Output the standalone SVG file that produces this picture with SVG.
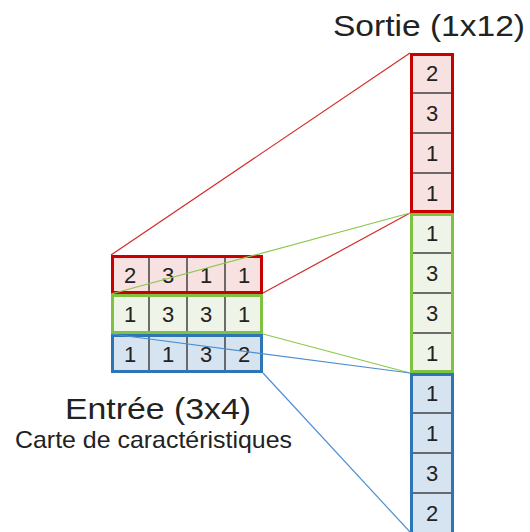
<svg xmlns="http://www.w3.org/2000/svg" width="530" height="532" viewBox="0 0 530 532">
<style>
.t{font-family:"Liberation Sans",Arial,sans-serif;fill:#222;}
.d{font-size:22px;text-anchor:middle;}
.div{stroke:#404040;stroke-width:1.5;}
.rf{fill:#f8e1e1;}.gf{fill:#eff4e8;}.bf{fill:#d6e4f2;}
.rs{fill:none;stroke:#c80000;stroke-width:3;}
.gs{fill:none;stroke:#7fc241;stroke-width:3;}
.bs{fill:none;stroke:#2e75b6;stroke-width:3;}
.cr{stroke:#d42a2a;stroke-width:1.2;fill:none;}
.cg{stroke:#8cc84e;stroke-width:1.2;fill:none;}
.cb{stroke:#4f8fd0;stroke-width:1.2;fill:none;}
</style>
<rect width="530" height="532" fill="#fff"/>
<g id="input-row-1">
<rect class="rf" x="111" y="255" width="152" height="39"/>
<line class="div" x1="149" y1="255" x2="149" y2="294"/><line class="div" x1="187" y1="255" x2="187" y2="294"/><line class="div" x1="225" y1="255" x2="225" y2="294"/>
<rect class="rs" x="112.5" y="256.5" width="149" height="36"/>
<text class="t d" x="130" y="283">2</text><text class="t d" x="168" y="283">3</text><text class="t d" x="206" y="283">1</text><text class="t d" x="244" y="283">1</text>
</g>
<g id="input-row-2">
<rect class="gf" x="111" y="294" width="152" height="40"/>
<line class="div" x1="149" y1="294" x2="149" y2="334"/><line class="div" x1="187" y1="294" x2="187" y2="334"/><line class="div" x1="225" y1="294" x2="225" y2="334"/>
<rect class="gs" x="112.5" y="295.5" width="149" height="37"/>
<text class="t d" x="130" y="322">1</text><text class="t d" x="168" y="322">3</text><text class="t d" x="206" y="322">3</text><text class="t d" x="244" y="322">1</text>
</g>
<g id="input-row-3">
<rect class="bf" x="111" y="334" width="152" height="39"/>
<line class="div" x1="149" y1="334" x2="149" y2="373"/><line class="div" x1="187" y1="334" x2="187" y2="373"/><line class="div" x1="225" y1="334" x2="225" y2="373"/>
<rect class="bs" x="112.5" y="335.5" width="149" height="36"/>
<text class="t d" x="130" y="362">1</text><text class="t d" x="168" y="362">1</text><text class="t d" x="206" y="362">3</text><text class="t d" x="244" y="362">2</text>
</g>
<g id="output-red">
<rect class="rf" x="410" y="53" width="44" height="160"/>
<line class="div" x1="410" y1="93" x2="454" y2="93"/><line class="div" x1="410" y1="133" x2="454" y2="133"/><line class="div" x1="410" y1="173" x2="454" y2="173"/>
<rect class="rs" x="411.5" y="54.5" width="41" height="157"/>
<text class="t d" x="432" y="81">2</text><text class="t d" x="432" y="121">3</text><text class="t d" x="432" y="161">1</text><text class="t d" x="432" y="201">1</text>
</g>
<g id="output-green">
<rect class="gf" x="410" y="213" width="44" height="160"/>
<line class="div" x1="410" y1="253" x2="454" y2="253"/><line class="div" x1="410" y1="293" x2="454" y2="293"/><line class="div" x1="410" y1="333" x2="454" y2="333"/>
<rect class="gs" x="411.5" y="214.5" width="41" height="157"/>
<text class="t d" x="432" y="241">1</text><text class="t d" x="432" y="281">3</text><text class="t d" x="432" y="321">3</text><text class="t d" x="432" y="361">1</text>
</g>
<g id="output-blue">
<rect class="bf" x="410" y="373" width="44" height="162"/>
<line class="div" x1="410" y1="413" x2="454" y2="413"/><line class="div" x1="410" y1="453" x2="454" y2="453"/><line class="div" x1="410" y1="493" x2="454" y2="493"/>
<rect class="bs" x="411.5" y="374.5" width="41" height="160"/>
<text class="t d" x="432" y="401">1</text><text class="t d" x="432" y="441">1</text><text class="t d" x="432" y="481">3</text><text class="t d" x="432" y="521">2</text>
</g>
<g id="connectors">
<line class="cr" x1="111" y1="255" x2="410" y2="53"/>
<line class="cr" x1="263" y1="293" x2="410" y2="213"/>
<line class="cg" x1="111" y1="294" x2="410" y2="213"/>
<line class="cg" x1="263" y1="334" x2="410" y2="373"/>
<line class="cb" x1="111" y1="334" x2="410" y2="373"/>
<line class="cb" x1="263" y1="373" x2="410" y2="532"/>
</g>
<g id="labels">
<text class="t" x="333" y="36" font-size="30" textLength="192" lengthAdjust="spacingAndGlyphs">Sortie (1x12)</text>
<text class="t" x="65" y="419" font-size="30" textLength="186" lengthAdjust="spacingAndGlyphs">Entrée (3x4)</text>
<text class="t" x="15" y="448" font-size="24" textLength="277" lengthAdjust="spacingAndGlyphs">Carte de caractéristiques</text>
</g>
</svg>
